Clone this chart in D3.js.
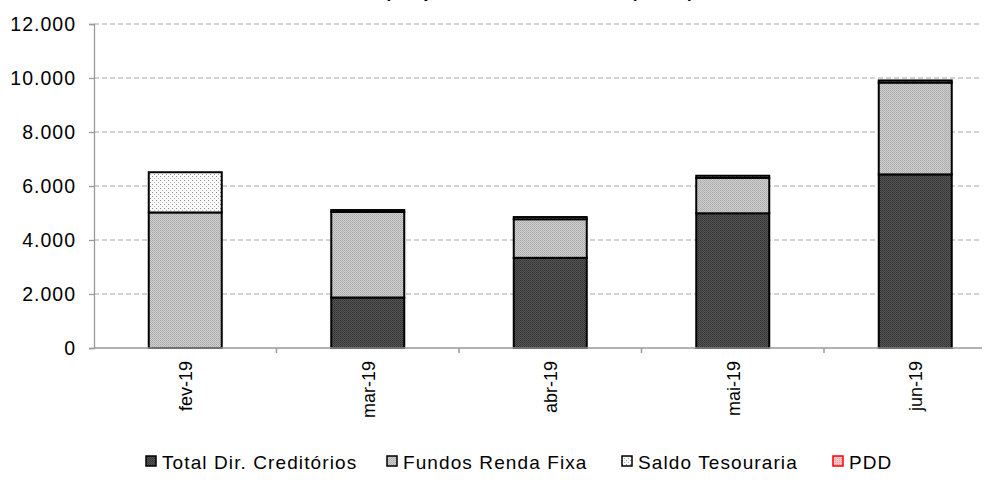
<!DOCTYPE html>
<html>
<head>
<meta charset="utf-8">
<script src="https://cdn.jsdelivr.net/npm/d3@7"></script>
<style>
  body { margin: 0; background: #fff; }
  svg { display: block; font-family: "Liberation Sans", Arial, sans-serif; }
</style>
</head>
<body>
<div id="chart-area"></div>
<script>
// values in R$ mil
var months = ["fev-19", "mar-19", "abr-19", "mai-19", "jun-19"];
var totalDirCred = [0, 1870, 3340, 4990, 6430];
var fundosRendaFixa = [5020, 3170, 1430, 1310, 3400];
var saldoTesouraria = [1490, 70, 80, 80, 80];
var pdd = [0, 0, 0, 0, 0];
var yTicks = [0, 2000, 4000, 6000, 8000, 10000, 12000];

var seriesNames = ["Total Dir. Creditórios", "Fundos Renda Fixa", "Saldo Tesouraria", "PDD"];
var keys = ["total", "fundos", "saldo", "pdd"];

var margin = { left: 94, top: 24, bottom: 348, right: 982 };
var width = 994, height = 484;

var svg = d3.select("#chart-area").append("svg")
	.attr("width", width)
	.attr("height", height);

// fill patterns, roughly like the excel ones
var defs = svg.append("defs");

var pDark = defs.append("pattern").attr("id", "pDark")
	.attr("width", 2).attr("height", 2).attr("patternUnits", "userSpaceOnUse");
pDark.append("rect").attr("width", 2).attr("height", 2).attr("fill", "#555");
pDark.append("rect").attr("width", 1).attr("height", 1).attr("fill", "#333");
pDark.append("rect").attr("x", 1).attr("y", 1).attr("width", 1).attr("height", 1).attr("fill", "#3c3c3c");

var pLight = defs.append("pattern").attr("id", "pLight")
	.attr("width", 2).attr("height", 2).attr("patternUnits", "userSpaceOnUse");
pLight.append("rect").attr("width", 2).attr("height", 2).attr("fill", "#cfcfcf");
pLight.append("rect").attr("width", 1).attr("height", 1).attr("fill", "#a9a9a9");
pLight.append("rect").attr("x", 1).attr("y", 1).attr("width", 1).attr("height", 1).attr("fill", "#b4b4b4");

var pDots = defs.append("pattern").attr("id", "pDots")
	.attr("width", 4).attr("height", 4).attr("patternUnits", "userSpaceOnUse");
pDots.append("rect").attr("width", 4).attr("height", 4).attr("fill", "#fafafa");
pDots.append("rect").attr("width", 1).attr("height", 1).attr("fill", "#888");
pDots.append("rect").attr("x", 2).attr("y", 2).attr("width", 1).attr("height", 1).attr("fill", "#aaa");

var pPdd = defs.append("pattern").attr("id", "pPdd")
	.attr("width", 2).attr("height", 2).attr("patternUnits", "userSpaceOnUse");
pPdd.append("rect").attr("width", 2).attr("height", 2).attr("fill", "#f4c8c8");
pPdd.append("rect").attr("width", 1).attr("height", 1).attr("fill", "#e89a9a");

var fills = { total: "url(#pDark)", fundos: "url(#pLight)", saldo: "url(#pDots)", pdd: "url(#pPdd)" };
var strokes = { total: "#000", fundos: "#000", saldo: "#000", pdd: "#f00" };

// scales
var x = d3.scaleBand().domain(months).range([margin.left, 1006.5]).padding(0);
var y = d3.scaleLinear().domain([0, 12000]).range([margin.bottom, margin.top]);

var fmt = d3.formatLocale({ decimal: ",", thousands: ".", grouping: [3], currency: ["R$", ""] }).format(",");

// title (cut off at the top in the picture)
svg.append("text")
	.attr("x", 521)
	.attr("y", -2)
	.attr("text-anchor", "middle")
	.attr("font-size", "17px")
	.attr("font-weight", "bold")
	.text("Composição da Carteira do Fundo (R$ mil)");

// gridlines
svg.append("g").selectAll("line")
	.data(yTicks.filter(function (d) { return d > 0; }))
	.enter().append("line")
	.attr("x1", margin.left).attr("x2", margin.right)
	.attr("y1", function (d) { return y(d); })
	.attr("y2", function (d) { return y(d); })
	.attr("stroke", "#a6a6a6")
	.attr("stroke-width", 1)
	.attr("stroke-dasharray", "5,3");

// y axis
var yAxisGroup = svg.append("g")
	.attr("transform", "translate(" + margin.left + ",0)")
	.call(d3.axisLeft(y).tickValues(yTicks).tickFormat(fmt).tickSize(5).tickPadding(13));
yAxisGroup.selectAll("path, line").attr("stroke", "#999").attr("stroke-width", 1.3);
yAxisGroup.selectAll("text").attr("font-size", "19.5px").attr("fill", "#000")
	.attr("letter-spacing", "1px")
	.attr("font-family", "'Liberation Sans', Arial, sans-serif");

// stacked data
var table = months.map(function (m, i) {
	return { month: m, total: totalDirCred[i], fundos: fundosRendaFixa[i], saldo: saldoTesouraria[i], pdd: pdd[i] };
});
var stacked = d3.stack().keys(keys)(table);

var barW = x.bandwidth() * 0.4;

svg.append("g").selectAll("g")
	.data(stacked)
	.enter().append("g")
	.attr("fill", function (s) { return fills[s.key]; })
	.attr("stroke", function (s) { return strokes[s.key]; })
	.selectAll("rect")
	.data(function (s) { return s.filter(function (d) { return d[1] - d[0] > 0; }); })
	.enter().append("rect")
	.attr("x", function (d) { return x(d.data.month) + (x.bandwidth() - barW) / 2; })
	.attr("y", function (d) { return y(d[1]); })
	.attr("width", barW)
	.attr("height", function (d) { return y(d[0]) - y(d[1]); })
	.attr("stroke-width", 2);

// x axis
var xAxisGroup = svg.append("g")
	.attr("transform", "translate(0," + margin.bottom + ")");
xAxisGroup.append("line")
	.attr("x1", margin.left).attr("x2", margin.right)
	.attr("stroke", "#999").attr("stroke-width", 1.5);
xAxisGroup.selectAll(".tk")
	.data(months.slice(1))
	.enter().append("line")
	.attr("class", "tk")
	.attr("x1", function (d) { return x(d); })
	.attr("x2", function (d) { return x(d); })
	.attr("y1", 0).attr("y2", 5)
	.attr("stroke", "#999").attr("stroke-width", 1.5);
xAxisGroup.selectAll(".lbl")
	.data(months)
	.enter().append("text")
	.attr("class", "lbl")
	.attr("transform", function (d) {
		return "translate(" + (x(d) + x.bandwidth() / 2 + 7) + ",13) rotate(-90)";
	})
	.attr("text-anchor", "end")
	.attr("font-size", "18px")
	.text(function (d) { return d; });

// legend
var legendX = [146, 387, 622, 833];
var legend = svg.append("g");
var items = legend.selectAll("g")
	.data(keys)
	.enter().append("g")
	.attr("transform", function (d, i) { return "translate(" + legendX[i] + ",456)"; });
items.append("rect")
	.attr("width", 10).attr("height", 10)
	.attr("fill", function (d) { return fills[d]; })
	.attr("stroke", function (d) { return strokes[d]; })
	.attr("stroke-width", 1.5);
items.append("text")
	.attr("x", 16).attr("y", 13)
	.attr("font-size", "19px")
	.attr("letter-spacing", "1.1px")
	.text(function (d, i) { return seriesNames[i]; });
</script>
</body>
</html>
